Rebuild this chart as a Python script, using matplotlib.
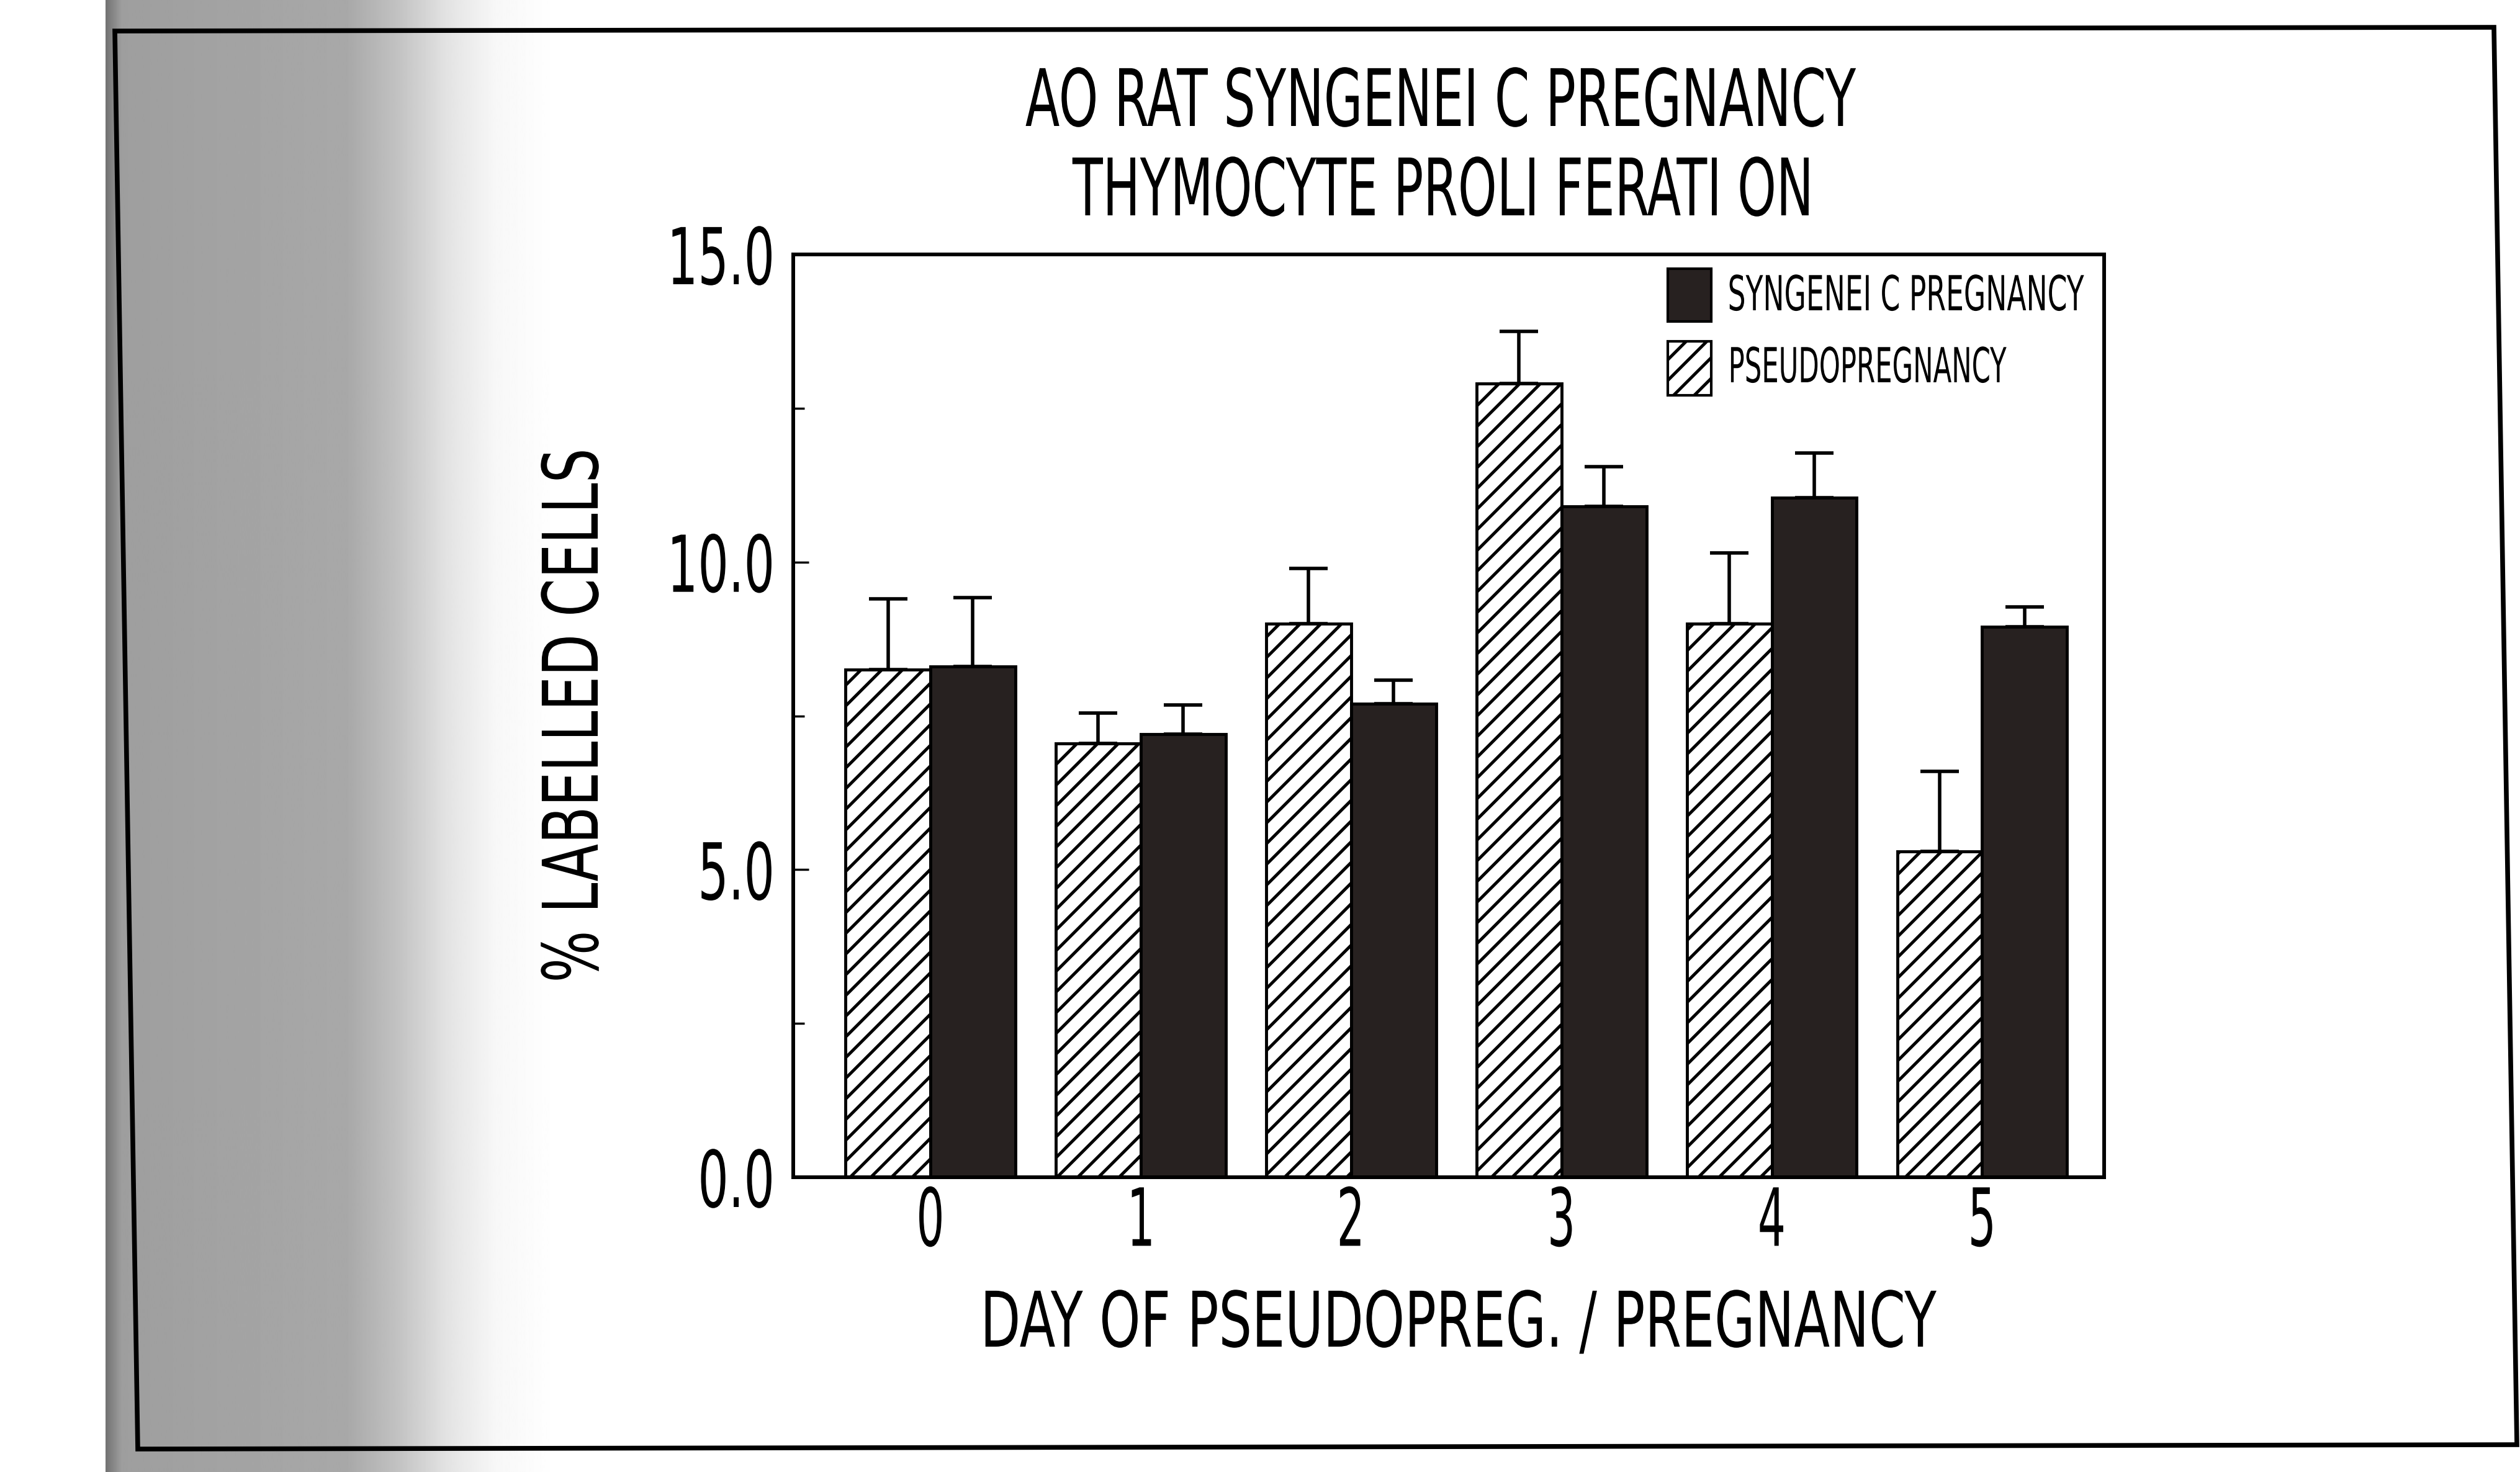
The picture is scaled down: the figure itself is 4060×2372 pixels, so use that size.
import numpy as np
import matplotlib
matplotlib.use("Agg")
import matplotlib.pyplot as plt  # noqa: E402
from matplotlib import font_manager  # noqa: E402
from matplotlib.patheffects import AbstractPathEffect  # noqa: E402
from matplotlib.transforms import Affine2D  # noqa: E402
from matplotlib.patches import Rectangle, Polygon  # noqa: E402

# values
days = ["0", "1", "2", "3", "4", "5"]
pseudo = [8.25, 7.05, 9.0, 12.9, 9.0, 5.3]
pseudo_err = [1.15, 0.5, 0.9, 0.85, 1.15, 1.3]
syngeneic = [8.3, 7.2, 7.7, 10.9, 11.05, 8.95]
syngeneic_err = [1.12, 0.48, 0.38, 0.65, 0.72, 0.32]
yticks = [0, 5, 10, 15]
ytick_labels = ["0.0", "5.0", "10.0", "15.0"]
yminor = [2.5, 7.5, 12.5]
title_lines = ["AO RAT SYNGENEI C PREGNANCY", "THYMOCYTE PROLI FERATI ON"]
legend_labels = ["SYNGENEI C PREGNANCY", "PSEUDOPREGNANCY"]
xlabel = "DAY OF PSEUDOPREG. / PREGNANCY"
ylabel = "% LABELLED CELLS"

W, H, DPI = 4060, 2372, 100
DARK = "#272120"

plt.rcParams["hatch.linewidth"] = 3.6
plt.rcParams["hatch.color"] = "black"

# use the condensed DejaVu face if it is there
stretch = "normal"
path = font_manager.findfont(font_manager.FontProperties(family="DejaVu Sans", stretch="condensed"))
if "Condensed" in path:
    stretch = "condensed"
plt.rcParams["font.family"] = ["DejaVu Sans"]
plt.rcParams["font.stretch"] = stretch


class Squeeze(AbstractPathEffect):
    """Narrow the glyphs horizontally (the plot used a very narrow plotter font)."""

    def __init__(self, sx, anchor="center"):
        super().__init__()
        self.sx = sx
        self.anchor = anchor

    def draw_path(self, renderer, gc, tpath, affine, rgbFace=None):
        ext = tpath.get_extents()
        x0 = {"left": ext.x0, "right": ext.x1}.get(self.anchor, (ext.x0 + ext.x1) / 2)
        sq = Affine2D().translate(-x0, 0).scale(self.sx, 1).translate(x0, 0)
        renderer.draw_path(gc, tpath, sq + affine, rgbFace)


def fx(px):
    return px / W


def fy(py):
    return 1 - py / H


fig = plt.figure(figsize=(W / DPI, H / DPI), dpi=DPI)
fig.patch.set_facecolor("white")

# grey shadow of the page fold, and the frame round the figure
bg = fig.add_axes([fx(170), 0, fx(900) - fx(170), 1], zorder=-10)
cols = np.linspace(170, 900, 400)
shade = np.interp(cols, [170, 195, 560, 640, 720, 800, 900],
                  [0.45, 0.62, 0.66, 0.76, 0.89, 0.97, 1.0])
bg.imshow(np.tile(shade, (2, 1)), cmap="gray", vmin=0, vmax=1, aspect="auto",
          extent=[0, 1, 0, 1])
bg.axis("off")
fig.add_artist(Polygon([(fx(185), fy(50)), (fx(4018), fy(44)), (fx(4055), fy(2328)),
                        (fx(222), fy(2335))], closed=True, fill=False,
                       edgecolor="black", lw=5.5, transform=fig.transFigure))

ax = fig.add_axes([fx(1278), fy(1897), fx(3390) - fx(1278), fy(410) - fy(1897)])
x = np.arange(len(days))
bw = 0.404
ax.bar(x - bw / 2, pseudo, bw, color="white", edgecolor="black", hatch="/",
       linewidth=3.5, zorder=2)
ax.bar(x + bw / 2, syngeneic, bw, color=DARK, edgecolor="black", linewidth=3.5, zorder=2)
ax.errorbar(x - bw / 2, pseudo, yerr=[np.zeros(len(days)), pseudo_err], fmt="none",
            ecolor="black", elinewidth=4, capsize=22, capthick=4, zorder=1)
ax.errorbar(x + bw / 2, syngeneic, yerr=[np.zeros(len(days)), syngeneic_err], fmt="none",
            ecolor="black", elinewidth=4, capsize=22, capthick=4, zorder=1)

ax.set_xlim(-0.652, 5.58)
ax.set_ylim(0, 15)
ax.set_xticks(x, days)
ax.set_yticks(yticks, ytick_labels)
ax.set_yticks(yminor, minor=True)
ax.tick_params(axis="x", length=0, labelsize=93, pad=9)
ax.tick_params(axis="y", which="major", direction="in", length=18, width=2.5,
               labelsize=91, pad=20)
ax.tick_params(axis="y", which="minor", direction="in", length=13, width=2.5)
for s in ax.spines.values():
    s.set_linewidth(4.3)

# titles and axis labels as figure text
t1 = fig.text(fx(2320), fy(203), title_lines[0], ha="center", va="baseline", fontsize=92)
t2 = fig.text(fx(2326), fy(347), title_lines[1], ha="center", va="baseline", fontsize=92)
xl = fig.text(fx(2348), fy(2170), xlabel, ha="center", va="baseline", fontsize=89)
yl = fig.text(fx(963), fy(1153), ylabel, ha="center", va="baseline", rotation=90,
              rotation_mode="anchor", fontsize=89)

# legend, drawn by hand to sit where the plotter put it
fig.add_artist(Rectangle((fx(2687), fy(518)), fx(2757) - fx(2687), fy(433) - fy(518),
                         transform=fig.transFigure, facecolor=DARK, edgecolor="black", lw=3))
fig.add_artist(Rectangle((fx(2687), fy(637)), fx(2757) - fx(2687), fy(550) - fy(637),
                         transform=fig.transFigure, facecolor="white", edgecolor="black",
                         lw=3, hatch="/"))
l1 = fig.text(fx(2782), fy(500), legend_labels[0], ha="left", va="baseline", fontsize=56)
l2 = fig.text(fx(2782), fy(616), legend_labels[1], ha="left", va="baseline", fontsize=56)

fig.canvas.draw()
renderer = fig.canvas.get_renderer()


def squeeze_to(txt, target, anchor="center", vertical=False):
    bb = txt.get_window_extent(renderer)
    w = bb.height if vertical else bb.width
    txt.set_path_effects([Squeeze(target / w, anchor)])


squeeze_to(t1, 1337)
squeeze_to(t2, 1193)
squeeze_to(xl, 1540)
squeeze_to(yl, 861, vertical=True)
squeeze_to(l1, 574, anchor="left")
squeeze_to(l2, 448, anchor="left")

yt = ax.yaxis.get_major_ticks()
sy = 173 / yt[2].label1.get_window_extent(renderer).width
for t in yt:
    t.label1.set_path_effects([Squeeze(sy, "right")])
xt = ax.xaxis.get_major_ticks()
sx = 45 / xt[2].label1.get_window_extent(renderer).width
for t in xt:
    t.label1.set_path_effects([Squeeze(sx, "center")])

fig.savefig("out.png", dpi=DPI)
